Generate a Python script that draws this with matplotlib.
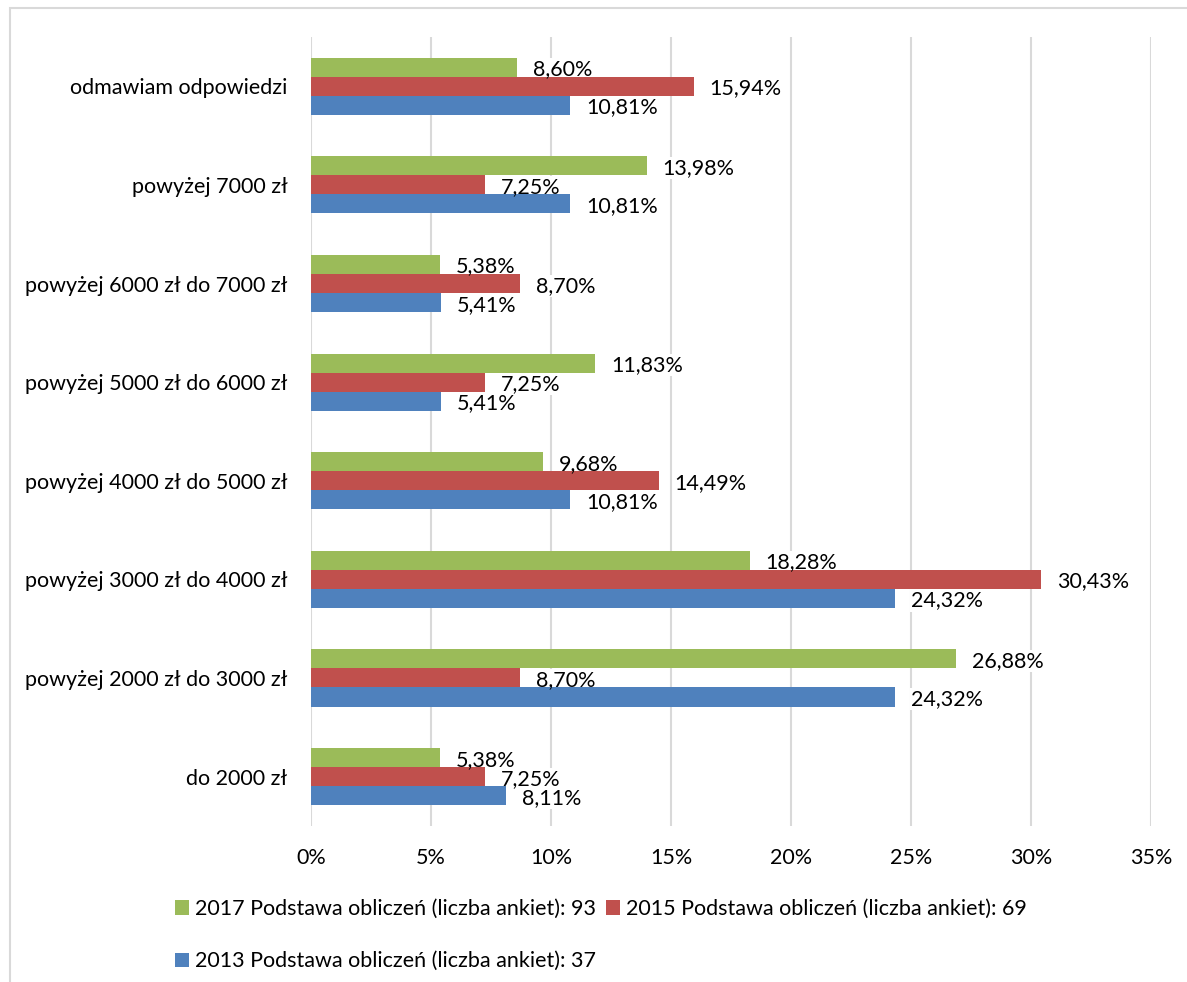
import numpy as np
import matplotlib
matplotlib.use("Agg")
import matplotlib.pyplot as plt
from matplotlib.patches import Rectangle

plt.rcParams['font.family'] = ['Lato', 'DejaVu Sans']

categories = [
    "odmawiam odpowiedzi",
    "powyżej 7000 zł",
    "powyżej 6000 zł do 7000 zł",
    "powyżej 5000 zł do 6000 zł",
    "powyżej 4000 zł do 5000 zł",
    "powyżej 3000 zł do 4000 zł",
    "powyżej 2000 zł do 3000 zł",
    "do 2000 zł",
]
vals_2017 = [8.60, 13.98, 5.38, 11.83, 9.68, 18.28, 26.88, 5.38]
vals_2015 = [15.94, 7.25, 8.70, 7.25, 14.49, 30.43, 8.70, 7.25]
vals_2013 = [10.81, 10.81, 5.41, 5.41, 10.81, 24.32, 24.32, 8.11]
series_names = [
    "2017 Podstawa obliczeń (liczba ankiet): 93",
    "2015 Podstawa obliczeń (liczba ankiet): 69",
    "2013 Podstawa obliczeń (liczba ankiet): 37",
]
colors = ["#9BBB59", "#C0504D", "#4F81BD"]
x_ticks = [0, 5, 10, 15, 20, 25, 30, 35]

FS = 15.5

fig = plt.figure(figsize=(11.87, 9.82), dpi=100)
ax = fig.add_axes([0.262, 0.159, 0.7077, 0.8033])

# outer chart frame (light grey, cut by the image edges)
fig.patches.append(Rectangle((10 / 1187, -0.05), 1.2, 1 - 8 / 982 + 0.05,
                             transform=fig.transFigure, fill=False,
                             edgecolor="#d9d9d9", linewidth=1.5))

y = np.arange(len(categories))
h = 0.193
bars = []
for i, (vals, col, name) in enumerate(zip([vals_2017, vals_2015, vals_2013], colors, series_names)):
    b = ax.barh(y + (i - 1) * h, vals, height=h, color=col, label=name, zorder=2)
    bars.append(b)
    for yy, v in zip(y + (i - 1) * h, vals):
        txt = f"{v:.2f}%".replace(".", ",")
        # white box behind the label hides the gridlines, but stays under the bars
        ax.annotate(txt, xy=(v, yy), xytext=(11.5, -1.5),
                    textcoords="offset points", ha="left", va="center",
                    fontsize=FS, color="white", zorder=1.5,
                    bbox=dict(boxstyle="square,pad=0.05", fc="white", ec="none"))
        ax.annotate(txt, xy=(v, yy), xytext=(11.5, -1.5),
                    textcoords="offset points", ha="left", va="center",
                    fontsize=FS, color="#000000", zorder=4)

ax.set_xlim(0, 35)
ax.set_ylim(len(categories) - 0.5, -0.5)
ax.set_xticks(x_ticks)
ax.set_xticklabels([f"{t}%" for t in x_ticks])
ax.set_yticks(y)
ax.set_yticklabels(categories)
ax.tick_params(axis="both", length=0, labelsize=FS, colors="#000000")
ax.tick_params(axis="y", pad=17)
ax.tick_params(axis="x", pad=16)
ax.grid(axis="x", color="#d9d9d9", linewidth=1.5, zorder=0)
ax.set_axisbelow(True)
for s in ax.spines.values():
    s.set_visible(False)

handles = [bars[0], bars[2], bars[1]]
labels = [series_names[0], series_names[2], series_names[1]]
fig.legend(handles, labels, ncol=2, loc="upper left", bbox_to_anchor=(175 / 1187, 1 - 899 / 982),
           frameon=False, fontsize=FS, handlelength=0.65, handleheight=0.65,
           handletextpad=0.28, columnspacing=0.47, labelspacing=1.5, borderpad=0,
           borderaxespad=0)

fig.savefig("out.png", dpi=100, facecolor="white")
